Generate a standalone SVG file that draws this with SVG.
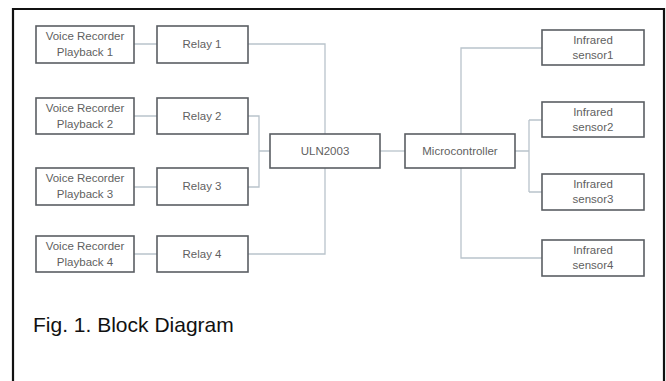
<svg xmlns="http://www.w3.org/2000/svg" width="666" height="381" viewBox="0 0 666 381">
<style>
.box{fill:#fff;stroke:#5a5e63;stroke-width:1.6}
.t{font-family:"Liberation Sans",Arial,sans-serif;font-size:11.5px;fill:#5f5f5f;text-anchor:middle}
.c{fill:none;stroke:#b9c3cb;stroke-width:1.3}
.cap{font-family:"Liberation Sans",Arial,sans-serif;font-size:21px;fill:#111}
</style>
<rect x="0" y="0" width="666" height="381" fill="#fff"/>
<path d="M13,381 V9 H664 V381" fill="none" stroke="#111" stroke-width="2.2"/>
<g id="connectors">
<path class="c" d="M134,44 H157 M134,116 H157 M134,187 H157 M134,254 H157"/>
<path class="c" d="M248,44 H325 V134"/>
<path class="c" d="M248,254 H325 V168"/>
<path class="c" d="M248,116 H259 V187 H248 M259,151 H270"/>
<path class="c" d="M380,151 H405"/>
<path class="c" d="M461,134 V48 H542"/>
<path class="c" d="M461,168 V258 H542"/>
<path class="c" d="M515,151 H529 M529,120 V192 M529,120 H542 M529,192 H542"/>
</g>
<g id="vr1"><rect class="box" x="36" y="26" width="98" height="37"/><text class="t" x="85" y="40">Voice Recorder</text><text class="t" x="85" y="56">Playback 1</text></g>
<g id="vr2"><rect class="box" x="36" y="98" width="98" height="36"/><text class="t" x="85" y="112">Voice Recorder</text><text class="t" x="85" y="128">Playback 2</text></g>
<g id="vr3"><rect class="box" x="36" y="168" width="98" height="37"/><text class="t" x="85" y="182">Voice Recorder</text><text class="t" x="85" y="198">Playback 3</text></g>
<g id="vr4"><rect class="box" x="36" y="236" width="98" height="36"/><text class="t" x="85" y="250">Voice Recorder</text><text class="t" x="85" y="266">Playback 4</text></g>
<g id="relay1"><rect class="box" x="157" y="26" width="91" height="37"/><text class="t" x="202" y="48">Relay 1</text></g>
<g id="relay2"><rect class="box" x="157" y="98" width="91" height="36"/><text class="t" x="202" y="120">Relay 2</text></g>
<g id="relay3"><rect class="box" x="157" y="168" width="91" height="37"/><text class="t" x="202" y="190">Relay 3</text></g>
<g id="relay4"><rect class="box" x="157" y="236" width="91" height="36"/><text class="t" x="202" y="258">Relay 4</text></g>
<g id="uln"><rect class="box" x="270" y="134" width="110" height="34"/><text class="t" x="325" y="155">ULN2003</text></g>
<g id="mcu"><rect class="box" x="405" y="134" width="110" height="34"/><text class="t" x="460" y="155">Microcontroller</text></g>
<g id="ir1"><rect class="box" x="542" y="30" width="102" height="35"/><text class="t" x="593" y="44">Infrared</text><text class="t" x="593" y="59">sensor1</text></g>
<g id="ir2"><rect class="box" x="542" y="102" width="102" height="35"/><text class="t" x="593" y="116">Infrared</text><text class="t" x="593" y="131">sensor2</text></g>
<g id="ir3"><rect class="box" x="542" y="174" width="102" height="36"/><text class="t" x="593" y="188">Infrared</text><text class="t" x="593" y="203">sensor3</text></g>
<g id="ir4"><rect class="box" x="542" y="240" width="102" height="36"/><text class="t" x="593" y="254">Infrared</text><text class="t" x="593" y="269">sensor4</text></g>
<text class="cap" x="33" y="332">Fig. 1. Block Diagram</text>
</svg>
